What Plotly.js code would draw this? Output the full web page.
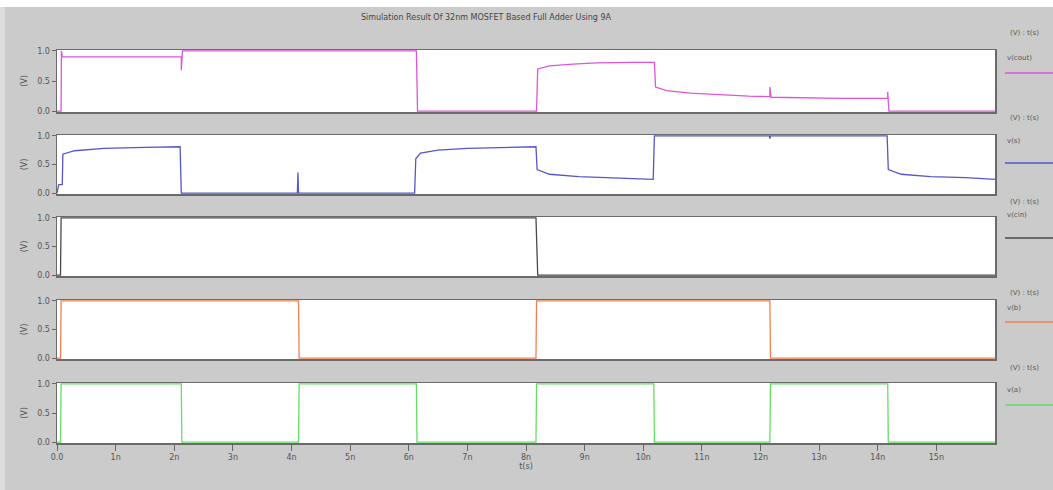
<!DOCTYPE html>
<html><head><meta charset="utf-8">
<script src="https://cdn.plot.ly/plotly-3.0.1.min.js"></script>
<style>html,body{margin:0;padding:0;background:#fff}#g{width:1053px;height:490px}</style>
</head><body><div id="g"></div>
<script>
// time in ns
const tickVals = [0,1,2,3,4,5,6,7,8,9,10,11,12,13,14,15];
const tickText = ["0.0","1n","2n","3n","4n","5n","6n","7n","8n","9n","10n","11n","12n","13n","14n","15n"];
const yTickVals = [0, 0.5, 1.0];
const yTickText = ["0.0","0.5","1.0"];
const signalNames = ["v(cout)","v(s)","v(cin)","v(b)","v(a)"];

const tCout = [0, 0.07, 0.075, 0.09, 2.12, 2.12, 2.14, 6.13, 6.15, 8.18, 8.20, 8.40, 8.80, 9.20, 9.80, 10.19, 10.21, 10.40, 10.80, 11.30, 11.80, 12.16, 12.16, 12.18, 12.60, 13.40, 14.17, 14.17, 14.19, 16];
const vCout = [0, 0,    1.0,   0.90, 0.90, 0.68, 1.0,  1.0,  0,    0,    0.70, 0.75, 0.78, 0.80, 0.81, 0.81,  0.40,  0.34,  0.30,  0.27,  0.25,  0.24,  0.40,  0.23,  0.22,  0.21,  0.21,  0.32,  0,     0];

const tS = [0, 0.03, 0.09, 0.10, 0.30, 0.80, 1.50, 2.10, 2.12, 4.10, 4.11, 4.12, 6.10, 6.12, 6.20, 6.50, 7.00, 7.60, 8.17, 8.19, 8.40, 8.90, 9.50, 10.17, 10.19, 12.15, 12.16, 12.17, 14.16, 14.18, 14.40, 14.90, 15.50, 16];
const vS = [0, 0.15, 0.15, 0.68, 0.74, 0.78, 0.80, 0.81, 0,    0,    0.36, 0,    0,    0.60, 0.70, 0.75, 0.78, 0.80, 0.81, 0.41, 0.33, 0.29, 0.27, 0.24,  1.0,   1.0,   0.95,  1.0,   1.0,   0.41,  0.33,  0.29,  0.27,  0.24];

const tCin = [0, 0.06, 0.07, 8.17, 8.20, 16];
const vCin = [0, 0,    1,    1,    0,    0];

const tB = [0, 0.06, 0.07, 4.12, 4.13, 8.17, 8.18, 12.16, 12.17, 16];
const vB = [0, 0,    1,    1,    0,    0,    1,    1,     0,     0];

const tA = [0, 0.06, 0.07, 2.12, 2.13, 4.12, 4.13, 6.13, 6.14, 8.17, 8.18, 10.18, 10.19, 12.16, 12.17, 14.17, 14.18, 16];
const vA = [0, 0,    1,    1,    0,    0,    1,    1,    0,    0,    1,    1,     0,     0,     1,     1,     0,     0];

const colors = ["#dd55d8", "#5555cc", "#4a4a4a", "#f08050", "#66dd66"];
const series = [[tCout,vCout],[tS,vS],[tCin,vCin],[tB,vB],[tA,vA]];

// panel pixel boxes (top,bottom) -> paper domains
const L=57, R=58, T=50, B=47, H=490, W=1053;
const ph = H-T-B, pw = W-L-R;
const panelPx = [[50,112],[135,194],[217,276],[300,359],[383,443]];
const toPy = y => (H-B-y)/ph;
const toPx = x => (x-L)/pw;

const traces = [];
const layout = {
  width: W, height: H,
  margin: {l:L, r:R, t:T, b:B},
  paper_bgcolor: "#cbcbcb",
  plot_bgcolor: "#ffffff",
  showlegend: false,
  font: {family: "DejaVu Sans, sans-serif", size: 8, color: "#555"},
  title: {text: "Simulation Result Of 32nm MOSFET Based Full Adder Using 9A",
          x: toPx(486), xref: "paper", xanchor: "center", y: 1-17/H, yanchor: "middle",
          font: {size: 8, color: "#444"}},
  shapes: [], annotations: []
};
series.forEach((s,i) => {
  const n = i+1;
  traces.push({x: s[0], y: s[1], type: "scatter", mode: "lines",
    line: {color: colors[i], width: 1.3, shape: "linear"},
    xaxis: "x"+(n===1?"":n), yaxis: "y"+(n===1?"":n), hoverinfo: "skip"});
  const bottom = n===5;
  layout["xaxis"+(n===1?"":n)] = {
    domain: [0,1], range: [0,16], anchor: "y"+(n===1?"":n),
    showgrid: false, zeroline: false, showline: true, mirror: true,
    linecolor: "#6a6a6a", linewidth: 1.5,
    tickvals: bottom ? tickVals : [], ticktext: bottom ? tickText : [],
    ticks: bottom ? "outside" : "", ticklen: 6, tickcolor: "#666",
    showticklabels: bottom, tickfont: {size: 8, color: "#555"},
    title: bottom ? {text: "t(s)", font: {size: 8, color: "#555"}, standoff: 2} : {text: ""}
  };
  layout["yaxis"+(n===1?"":n)] = {
    domain: [toPy(panelPx[i][1]), toPy(panelPx[i][0])],
    range: [-0.015, 1.015], anchor: "x"+(n===1?"":n),
    showgrid: false, zeroline: false, showline: true, mirror: true,
    linecolor: "#6a6a6a", linewidth: 1.5,
    tickvals: yTickVals, ticktext: yTickText, ticks: "outside", ticklen: 4, tickcolor: "#666",
    tickfont: {size: 8, color: "#555"},
    title: {text: "(V)", font: {size: 8, color: "#555"}, standoff: 8}
  };
});

// white strip on top of the image
layout.shapes.push({type:"rect", xref:"paper", yref:"paper", x0: toPx(0), x1: toPx(W), y0: toPy(7), y1: toPy(0),
  fillcolor:"#ffffff", line:{width:0}, layer:"below"});
layout.shapes.push({type:"rect", xref:"paper", yref:"paper", x0: toPx(0), x1: toPx(5), y0: toPy(H), y1: toPy(7),
  fillcolor:"#dcdcdc", line:{width:0}, layer:"below"});

// right side labels
const headerY = [33, 118, 202, 293, 368];
const nameY = [58, 141, 215, 308, 390];
const lineY = [73, 163, 238, 322, 405];
for (let i=0;i<5;i++){
  layout.annotations.push({xref:"paper", yref:"paper", x: toPx(1008), y: toPy(headerY[i]), xanchor:"left", yanchor:"middle",
    text:"(V) : t(s)", showarrow:false, font:{size:7, color:"#555"}});
  layout.annotations.push({xref:"paper", yref:"paper", x: toPx(1005), y: toPy(nameY[i]), xanchor:"left", yanchor:"middle",
    text: signalNames[i], showarrow:false, font:{size:7, color:"#555"}});
  layout.shapes.push({type:"line", xref:"paper", yref:"paper", x0: toPx(1005), x1: toPx(1053), y0: toPy(lineY[i]), y1: toPy(lineY[i]),
    line:{color: colors[i], width: 1.5}});
}

Plotly.newPlot("g", traces, layout, {staticPlot: true, displayModeBar: false});
</script></body></html>
